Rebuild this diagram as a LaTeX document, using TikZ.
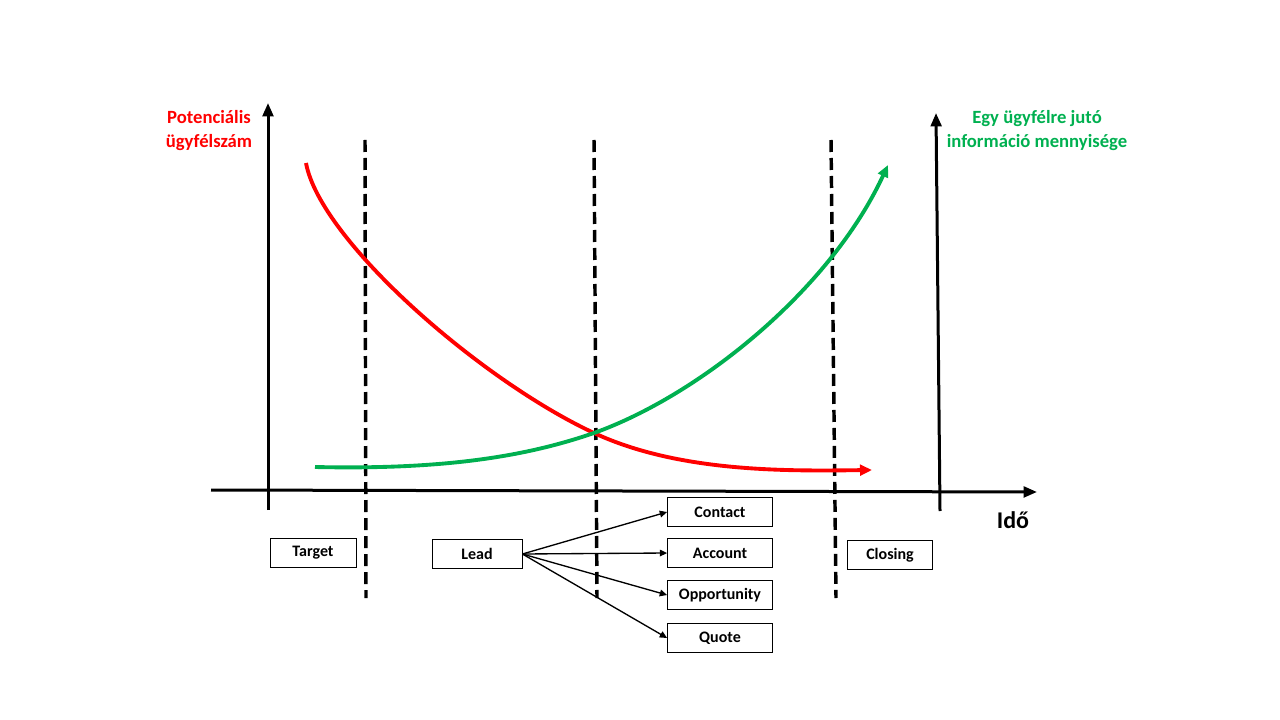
\documentclass[tikz,border=0pt]{standalone}
\usepackage{fontspec}
\setmainfont{Carlito}
\usepackage{tikz}
\usetikzlibrary{arrows.meta}
\definecolor{potred}{RGB}{255,0,0}
\definecolor{infogreen}{RGB}{0,176,80}

\begin{document}
\begin{tikzpicture}[x=0.75pt, y=-0.75pt,
	axis/.style={line width=2.25pt, -{Triangle[length=10pt,width=8pt]}},
	phase/.style={line width=2.6pt, dash pattern=on 9pt off 4.5pt},
	trend/.style={line width=2.9pt, -{Triangle[length=9pt,width=8pt]}},
	stage/.style={draw, line width=0.6pt, minimum height=21.75pt, inner sep=0pt, font=\fontsize{12}{14}\selectfont\bfseries},
	flow/.style={line width=1pt, -{Triangle[length=5.5pt,width=5pt]}}]
	\useasboundingbox (0,0) rectangle (1280,720);
	% axes
	\draw[axis] (268,510) -- (268,103);
	\draw[axis] (940,511) -- (936,113);
	\draw[axis] (211,490) -- (1037,492);
	% phase borders
	\draw[phase] (365,140) -- (366,598);
	\draw[phase] (594,140) -- (597,598);
	\draw[phase] (831,140) -- (836,598);
	% curves
	\draw[trend, potred] (306,163) .. controls (320,240) and (480,380) .. (594,433)
		.. controls (680,473) and (790,471) .. (872,470);
	\draw[trend, infogreen] (315,467) .. controls (450,470) and (530,455) .. (594,433)
		.. controls (700,395) and (830,290) .. (888,165);
	% labels
	\node[potred, align=center, font=\fontsize{14}{18}\selectfont\bfseries] (potlabel) at (209,131) {Potenciális\\ügyfélszám};
	\node[infogreen, align=center, font=\fontsize{14}{18}\selectfont\bfseries] (infolabel) at (1037,131) {Egy ügyfélre jutó\\információ mennyisége};
	\node[anchor=base, font=\fontsize{18}{20}\selectfont\bfseries] (timelabel) at (1013,528) {Idő};
	% stages
	\node[stage, minimum width=64.5pt] (target) at (313,553) {Target};
	\node[stage, minimum width=67.5pt] (lead) at (477,554) {Lead};
	\node[stage, minimum width=64pt] (closing) at (890,555) {Closing};
	\node[stage, minimum width=78.75pt] (contact) at (720,512) {Contact};
	\node[stage, minimum width=78.75pt] (account) at (720,553) {Account};
	\node[stage, minimum width=78.75pt] (opportunity) at (720,595) {Opportunity};
	\node[stage, minimum width=78.75pt] (quote) at (720,638) {Quote};
	\draw[flow] (lead.east) -- (contact.west);
	\draw[flow] (lead.east) -- (account.west);
	\draw[flow] (lead.east) -- (opportunity.west);
	\draw[flow] (lead.east) -- (quote.west);
\end{tikzpicture}
\end{document}
